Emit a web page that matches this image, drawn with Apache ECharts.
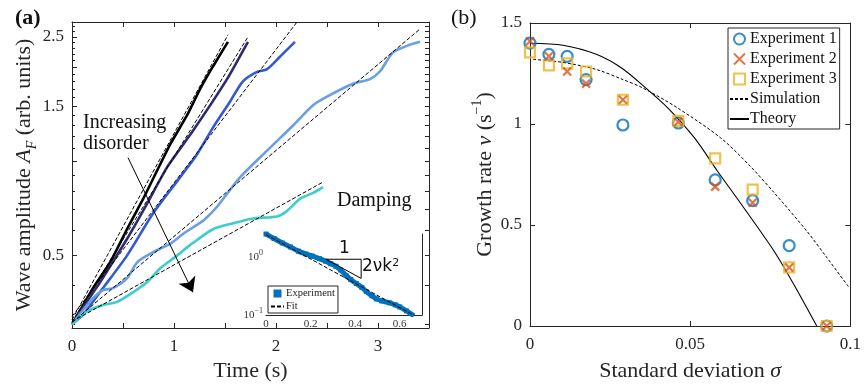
<!DOCTYPE html>
<html>
<head>
<meta charset="utf-8">
<script src="https://cdn.jsdelivr.net/npm/echarts@6/dist/echarts.min.js"></script>
<style>
  html, body { margin: 0; padding: 0; background: #fff; }
  #chart { width: 864px; height: 387px; }
</style>
</head>
<body>
<div id="chart"></div>
<script>
// ---- panel (a): wave amplitude vs time, log y axis ----
const blackT = [0, 0.206, 0.373, 0.539, 0.696, 0.843, 0.961, 1.127, 1.255, 1.382, 1.529];
const blackA = [0.300, 0.392, 0.473, 0.605, 0.755, 0.945, 1.13, 1.40, 1.70, 2.01, 2.41];
const navyT = [0, 0.059, 0.275, 0.539, 0.735, 0.931, 1.186, 1.520, 1.725];
const navyA = [0.300, 0.322, 0.409, 0.563, 0.730, 0.955, 1.25, 1.83, 2.41];
const blueT = [0, 0.108, 0.304, 0.539, 0.794, 1.059, 1.225, 1.382, 1.549, 1.676, 1.814, 1.912, 2.039, 2.186];
const blueA = [0.300, 0.322, 0.392, 0.498, 0.679, 0.887, 1.05, 1.28, 1.55, 1.80, 1.93, 1.97, 2.16, 2.41];
const lightT = [0, 0.206, 0.304, 0.402, 0.539, 0.637, 0.735, 0.863, 0.961, 1.088, 1.225, 1.30, 1.422, 1.647, 1.912, 2.167, 2.363, 2.500, 2.755, 2.922, 3.020, 3.147, 3.284, 3.412];
const lightA = [0.300, 0.364, 0.386, 0.392, 0.421, 0.473, 0.498, 0.524, 0.543, 0.584, 0.625, 0.650, 0.714, 0.887, 1.08, 1.30, 1.51, 1.61, 1.77, 1.83, 1.94, 2.23, 2.34, 2.41];
const tealT = [0, 0.147, 0.304, 0.441, 0.598, 0.735, 0.863, 1.029, 1.157, 1.382, 1.578, 1.775, 2.010, 2.10, 2.235, 2.36, 2.461];
const tealA = [0.300, 0.330, 0.346, 0.354, 0.380, 0.409, 0.453, 0.498, 0.538, 0.605, 0.632, 0.655, 0.665, 0.689, 0.757, 0.790, 0.826];

// exponential fits: [start, end]
const fitBlackT = [0, 1.53], fitBlackA = [0.31, 2.54];
const fitNavyT = [0, 1.725], fitNavyA = [0.305, 2.50];
const fitBlueT = [0, 2.206], fitBlueA = [0.318, 2.79];
const fitLightT = [0, 3.412], fitLightA = [0.304, 2.65];
const fitTealT = [0, 2.461], fitTealA = [0.306, 0.857];

// tick positions of panel (a)
const ampLabels = [0.5, 1.5, 2.5];
const ampMajor = [0.5, 1, 1.5, 2, 2.5];
const ampMinor = [0.3, 0.4, 0.5, 0.6, 0.7, 0.8, 0.9, 1.0, 1.1, 1.2, 1.3, 1.4, 1.5, 1.6, 1.7, 1.8, 1.9, 2.0, 2.1, 2.2, 2.3, 2.4, 2.5, 2.6, 2.7];

// arrow "increasing disorder": [t, A] start and end
const arrowStart = [0.549, 1.026], arrowEnd = [1.186, 0.38];

// ---- inset: damping ----
const insetT = [0, 0.036, 0.073, 0.11, 0.145, 0.18, 0.209, 0.24, 0.268, 0.29, 0.314, 0.335, 0.359, 0.38, 0.405, 0.43, 0.45, 0.475, 0.495, 0.52, 0.555, 0.58, 0.6, 0.63, 0.664];
const insetA = [2.51, 2.1, 1.76, 1.5, 1.27, 1.13, 1.04, 0.94, 0.85, 0.77, 0.695, 0.6, 0.483, 0.41, 0.35, 0.3, 0.254, 0.215, 0.19, 0.175, 0.162, 0.15, 0.138, 0.118, 0.097];
const fitInsetT = [0, 0.665], fitInsetA = [2.45, 0.098];
const insetMinor = [0.1, 0.2, 0.3, 0.4, 0.5, 0.6, 0.7, 0.8, 0.9, 1, 2];
const slopeT = [0.268, 0.427, 0.427, 0.268], slopeA = [0.92, 0.92, 0.43, 0.92];

// ---- panel (b): growth rate vs standard deviation ----
const sigma = [0, 0.0059, 0.0116, 0.0175, 0.029, 0.0463, 0.0578, 0.0695, 0.0809, 0.0926];
const exp1 = [1.40, 1.345, 1.335, 1.22, 0.995, 1.005, 0.723, 0.621, 0.398, 0];
const exp2 = [1.41, 1.335, 1.26, 1.20, 1.12, 1.01, 0.69, 0.61, 0.29, 0];
const exp3 = [1.355, 1.29, 1.30, 1.26, 1.12, 1.015, 0.83, 0.675, 0.29, 0];
const simSigma = [0.001, 0.0102, 0.0207, 0.029, 0.035, 0.046, 0.0596, 0.0688, 0.0762, 0.0864, 0.0926, 0.0994];
const simV = [1.32, 1.305, 1.27, 1.22, 1.18, 1.08, 0.93, 0.79, 0.66, 0.47, 0.34, 0.195];
const thSigma = [0, 0.0103, 0.0207, 0.0288, 0.036, 0.043, 0.0514, 0.0586, 0.0654, 0.0762, 0.0824, 0.0895];
const thV = [1.40, 1.39, 1.345, 1.275, 1.18, 1.08, 0.93, 0.765, 0.615, 0.37, 0.204, 0];

const SERIF = 'Liberation Serif';
const AXIS = '#262626';
const SQUARE = 'path://M0,0L10,0L10,10L0,10Z';
const CROSS = 'path://M0,0L10,10M10,0L0,10';
const lg = Math.log10;

const logPairs = (ts, as) => ts.map((t, i) => [t, lg(as[i])]);
const pairs = (xs, ys) => xs.map((x, i) => [x, ys[i]]);

const chart = echarts.init(document.getElementById('chart'));

function frameAxis(extra) {
  return Object.assign({
    type: 'value',
    splitLine: { show: false },
    axisLine: { show: true, onZero: false, lineStyle: { color: AXIS, width: 1 } },
    axisTick: { show: true, inside: true, length: 5, lineStyle: { color: AXIS } },
    axisLabel: { show: false }
  }, extra);
}

const tickLabel = { color: '#262626', fontFamily: SERIF, fontSize: 17 };
const nameStyle = {
  color: '#262626', fontFamily: SERIF, fontSize: 22,
  rich: {
    i: { fontFamily: SERIF, fontSize: 22, fontStyle: 'italic', color: '#262626' },
    s: { fontFamily: SERIF, fontSize: 14, fontStyle: 'italic', color: '#262626', verticalAlign: 'bottom', lineHeight: 12, padding: [0, 0, -4, 0] },
    sup: { fontFamily: SERIF, fontSize: 14, color: '#262626', verticalAlign: 'top', lineHeight: 12, padding: [-4, 0, 0, 0] }
  }
};

function fitLine(name, ts, as) {
  return {
    type: 'line', name: name, xAxisIndex: 0, yAxisIndex: 0,
    data: logPairs(ts, as), symbol: 'none', silent: true,
    lineStyle: { color: '#000', width: 1, type: [4, 2] }, z: 3
  };
}
function curve(name, ts, as, color, smooth) {
  return {
    type: 'line', name: name, xAxisIndex: 0, yAxisIndex: 0,
    data: logPairs(ts, as), symbol: 'none', smooth: smooth, silent: true,
    lineStyle: { color: color, width: 2.6 }, z: 2
  };
}

const option = {
  animation: false,
  title: [
    { text: '(a)', left: 10, top: 2, textStyle: { fontFamily: SERIF, fontSize: 22, fontWeight: 'bold', color: '#111' } },
    { text: '(b)', left: 446, top: 2, textStyle: { fontFamily: SERIF, fontSize: 22, fontWeight: 'normal', color: '#111' } }
  ],
  grid: [
    { left: 72, right: 435, top: 22, bottom: 54 },
    { left: 266, right: 442, top: 234, bottom: 72, show: true, backgroundColor: '#fff', borderWidth: 0, z: 5 },
    { left: 530, right: 9, top: 23, bottom: 55 }
  ],
  legend: [
    {
      data: [
        { name: 'Experiment 1', icon: 'circle' },
        { name: 'Experiment 2', icon: CROSS },
        { name: 'Experiment 3', icon: SQUARE },
        { name: 'Simulation', itemStyle: { opacity: 0 } },
        { name: 'Theory', itemStyle: { opacity: 0 } }
      ],
      orient: 'vertical', left: 728, top: 28, itemGap: 4, itemWidth: 19, itemHeight: 11,
      padding: [3, 3, 2, 1], borderColor: AXIS, borderWidth: 1, backgroundColor: '#fff',
      textStyle: { fontFamily: SERIF, fontSize: 16, color: '#111', padding: [0, 0, 0, -4] },
      selectedMode: false, z: 10
    },
    {
      data: [{ name: 'Experiment', icon: SQUARE }, { name: 'Fit', itemStyle: { opacity: 0 } }],
      orient: 'vertical', left: 268, top: 286, itemGap: 2, itemWidth: 13, itemHeight: 8,
      padding: [2, 3, 1, 2], borderColor: AXIS, borderWidth: 1, backgroundColor: '#fff',
      textStyle: { fontFamily: SERIF, fontSize: 10.5, color: '#222', padding: [0, 0, 0, -3] },
      selectedMode: false, z: 10
    }
  ],
  xAxis: [
    frameAxis({
      gridIndex: 0, position: 'bottom', min: 0, max: 3.5, interval: 0.5,
      axisLabel: { show: true, ...tickLabel, margin: 10, formatter: v => (Math.abs(v - Math.round(v)) < 1e-6 ? String(Math.round(v)) : '') },
      name: 'Time (s)', nameLocation: 'middle', nameGap: 32, nameTextStyle: nameStyle
    }),
    frameAxis({ gridIndex: 0, position: 'top', min: 0, max: 3.5, interval: 0.5 }),
    frameAxis({
      gridIndex: 1, position: 'bottom', min: 0, max: 0.7, interval: 0.1,
      axisTick: { show: true, inside: true, length: 3, lineStyle: { color: AXIS } },
      axisLabel: { show: true, color: '#333', fontFamily: SERIF, fontSize: 11, margin: 4,
        formatter: v => { const k = Math.round(v * 10); return (k % 2 === 0 && k < 7) ? (k === 0 ? '0' : (k / 10).toFixed(1)) : ''; } }
    }),
    frameAxis({ gridIndex: 1, position: 'top', min: 0, max: 0.7, interval: 0.1,
      axisTick: { show: true, inside: true, length: 3, lineStyle: { color: AXIS } } }),
    frameAxis({
      gridIndex: 2, position: 'bottom', min: 0, max: 0.1, interval: 0.05,
      axisLabel: { show: true, ...tickLabel, margin: 10 },
      name: 'Standard deviation {i|σ}', nameLocation: 'middle', nameGap: 34, nameTextStyle: nameStyle
    }),
    frameAxis({ gridIndex: 2, position: 'top', min: 0, max: 0.1, interval: 0.05 })
  ],
  yAxis: [
    frameAxis({
      gridIndex: 0, position: 'left', min: lg(0.292), max: lg(2.79),
      axisTick: { show: true, inside: true, length: 5, customValues: ampMajor.map(lg), lineStyle: { color: AXIS } },
      axisLabel: { show: true, ...tickLabel, margin: 8, customValues: ampLabels.map(lg), formatter: v => String(+Math.pow(10, v).toFixed(1)) },
      name: 'Wave amplitude {i|A}{s|F} (arb. units)', nameLocation: 'middle', nameGap: 33, nameTextStyle: nameStyle
    }),
    frameAxis({
      gridIndex: 0, position: 'left', min: lg(0.292), max: lg(2.79),
      axisLine: { show: false },
      axisTick: { show: true, inside: true, length: 3, customValues: ampMinor.map(lg), lineStyle: { color: AXIS } }
    }),
    frameAxis({
      gridIndex: 0, position: 'right', min: lg(0.292), max: lg(2.79),
      axisTick: { show: true, inside: true, length: 4, customValues: ampMinor.map(lg), lineStyle: { color: AXIS } }
    }),
    frameAxis({
      gridIndex: 1, position: 'left', min: -1, max: 0.4,
      axisTick: { show: true, inside: true, length: 3, customValues: insetMinor.map(lg), lineStyle: { color: AXIS } },
      axisLabel: { show: true, customValues: [-1, 0], margin: 3, color: '#333', fontFamily: SERIF, fontSize: 11,
        formatter: v => '10{e|' + (Math.round(v) === 0 ? '0' : '−1') + '}',
        rich: { e: { fontFamily: SERIF, fontSize: 8, color: '#333', verticalAlign: 'top', lineHeight: 8, padding: [-3, 0, 0, 0] } } }
    }),
    frameAxis({
      gridIndex: 1, position: 'right', min: -1, max: 0.4,
      axisTick: { show: true, inside: true, length: 3, customValues: insetMinor.map(lg), lineStyle: { color: AXIS } }
    }),
    frameAxis({
      gridIndex: 2, position: 'left', min: 0, max: 1.5, interval: 0.5,
      axisLabel: { show: true, ...tickLabel, margin: 8 },
      name: 'Growth rate {i|v} (s{sup|−1})', nameLocation: 'middle', nameGap: 34, nameTextStyle: nameStyle
    }),
    frameAxis({ gridIndex: 2, position: 'right', min: 0, max: 1.5, interval: 0.5 })
  ],
  series: [
    fitLine('fitBlack', fitBlackT, fitBlackA),
    fitLine('fitNavy', fitNavyT, fitNavyA),
    fitLine('fitBlue', fitBlueT, fitBlueA),
    fitLine('fitLight', fitLightT, fitLightA),
    fitLine('fitTeal', fitTealT, fitTealA),
    Object.assign(curve('black', blackT, blackA, '#000000', 0.15), {
      markLine: {
        silent: true, symbol: ['none', 'arrow'], symbolSize: 14,
        label: { show: false },
        lineStyle: { color: '#000', width: 1, type: 'solid' },
        data: [[{ coord: [arrowStart[0], lg(arrowStart[1])] }, { coord: [arrowEnd[0], lg(arrowEnd[1])] }]]
      }
    }),
    curve('navy', navyT, navyA, '#2e2c6e', 0.15),
    curve('blue', blueT, blueA, '#3459d4', 0.25),
    curve('light', lightT, lightA, '#6a9ee6', 0.25),
    curve('teal', tealT, tealA, '#3fcccc', 0.25),

    // inset
    {
      type: 'line', name: 'Experiment', xAxisIndex: 2, yAxisIndex: 3,
      data: logPairs(insetT, insetA), smooth: 0.3, symbol: SQUARE, symbolSize: 5, showSymbol: true,
      itemStyle: { color: '#0072BD' }, lineStyle: { color: '#0072BD', width: 5 }, silent: true, z: 6
    },
    {
      type: 'line', name: 'Fit', xAxisIndex: 2, yAxisIndex: 3,
      data: logPairs(fitInsetT, fitInsetA), symbol: 'none',
      itemStyle: { color: '#000' }, lineStyle: { color: '#000', width: 1, type: [4, 2] }, silent: true, z: 7
    },
    {
      type: 'line', name: 'slope', xAxisIndex: 2, yAxisIndex: 3,
      data: logPairs(slopeT, slopeA), symbol: 'none',
      lineStyle: { color: '#000', width: 1 }, silent: true, z: 7
    },

    // panel (b)
    {
      type: 'scatter', name: 'Experiment 1', xAxisIndex: 4, yAxisIndex: 5,
      data: pairs(sigma, exp1), symbol: 'circle', symbolSize: 11,
      itemStyle: { color: 'rgba(0,0,0,0)', borderColor: '#0072BD', borderWidth: 2.2 }, z: 3
    },
    {
      type: 'scatter', name: 'Experiment 2', xAxisIndex: 4, yAxisIndex: 5,
      data: pairs(sigma, exp2), symbol: CROSS, symbolSize: 8,
      itemStyle: { color: 'rgba(0,0,0,0)', borderColor: '#D95319', borderWidth: 2.2 }, z: 5
    },
    {
      type: 'scatter', name: 'Experiment 3', xAxisIndex: 4, yAxisIndex: 5,
      data: pairs(sigma, exp3), symbol: SQUARE, symbolSize: 10,
      itemStyle: { color: 'rgba(0,0,0,0)', borderColor: '#EDB120', borderWidth: 2.2 }, z: 4
    },
    {
      type: 'line', name: 'Simulation', xAxisIndex: 4, yAxisIndex: 5,
      data: pairs(simSigma, simV), symbol: 'none', smooth: 0.3,
      itemStyle: { color: '#000' }, lineStyle: { color: '#000', width: 1, type: [3, 2] }, z: 2
    },
    {
      type: 'line', name: 'Theory', xAxisIndex: 4, yAxisIndex: 5,
      data: pairs(thSigma, thV), symbol: 'none', smooth: 0.3,
      itemStyle: { color: '#000' }, lineStyle: { color: '#000', width: 1.1 }, z: 2
    }
  ],
  graphic: [
    { type: 'text', left: 83, top: 112, style: { text: 'Increasing\ndisorder', font: '20px "Liberation Serif"', fill: '#111', lineHeight: 21 } },
    { type: 'text', left: 337, top: 191, style: { text: 'Damping', font: '20px "Liberation Serif"', fill: '#111' } },
    { type: 'text', left: 339, top: 240, z: 20, style: { text: '1', font: '17px "DejaVu Sans"', fill: '#111' } },
    { type: 'text', left: 362, top: 258, z: 20, style: { text: '2νk{sup|2}', font: '17px "DejaVu Sans"', fill: '#111',
      rich: { sup: { font: '11px "DejaVu Sans"', fill: '#111', verticalAlign: 'top', lineHeight: 10 } } } }
  ]
};
chart.setOption(option);
</script>
</body>
</html>
